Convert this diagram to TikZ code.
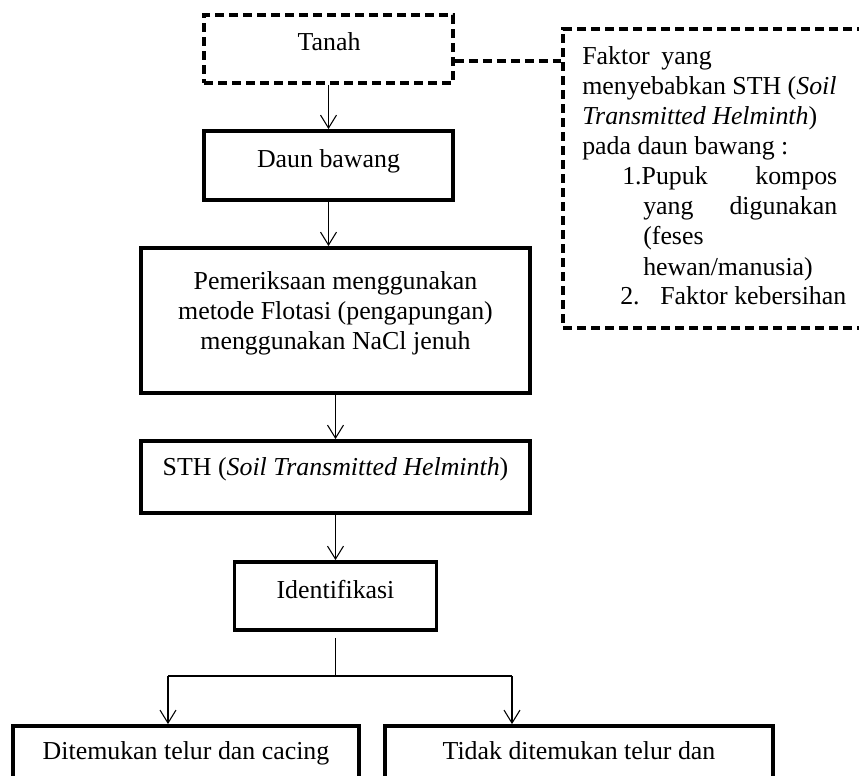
\documentclass[tikz,border=0pt]{standalone}
\usepackage{fontspec}
\setmainfont{Liberation Serif}
\usetikzlibrary{arrows.meta}
\begin{document}
\begin{tikzpicture}[x=0.75pt,y=-0.75pt,
  every node/.style={font=\fontsize{19.4pt}{22.5pt}\selectfont, inner sep=0pt},
  box/.style={draw, rectangle, line width=2.9pt, inner sep=0pt},
  dbox/.style={box, dash pattern=on 7pt off 3.5pt},
  txt/.style={anchor=base},
  ltxt/.style={anchor=base west},
  arr/.style={line width=0.8pt, -{Straight Barb[length=9.75pt,width=12pt,line width=0.8pt]}},
  thinline/.style={line width=0.8pt},
  dline/.style={line width=2.9pt, dash pattern=on 7pt off 3.5pt}]
\useasboundingbox (0,0) rectangle (859,775);
\fill[white] (0,0) rectangle (859,775);
\clip (0,0) rectangle (859,775);

% boxes
\node[dbox, minimum width=186.75pt, minimum height=51pt] (tanah) at (328.5,49) {};
\node[box, minimum width=186.75pt, minimum height=51.75pt] (daun) at (328.5,165.5) {};
\node[box, minimum width=291.75pt, minimum height=108.75pt] (periksa) at (335.5,320.5) {};
\node[box, minimum width=291.75pt, minimum height=54pt] (sth) at (335.5,477) {};
\node[box, minimum width=151.5pt, minimum height=51pt] (ident) at (335.5,596) {};
\node[box, minimum width=259.5pt, minimum height=52.5pt] (left) at (186,761) {};
\node[box, minimum width=291pt, minimum height=52.5pt] (right) at (579,761) {};
\node[dbox, minimum width=237.75pt, minimum height=224.25pt] (faktor) at (721.5,178.5) {};

% box texts
\node[txt] (tanahT) at (329,50) {Tanah};
\node[txt] (daunT) at (328.5,167) {Daun bawang};
\node[txt] (p1) at (335.5,289) {Pemeriksaan menggunakan};
\node[txt] (p2) at (335.5,319) {metode Flotasi (pengapungan)};
\node[txt] (p3) at (335.5,349) {menggunakan NaCl jenuh};
\node[txt] (sthT) at (335.5,475) {STH (\textit{Soil Transmitted Helminth})};
\node[txt] (identT) at (335.5,598) {Identifikasi};
\node[txt] (leftT) at (186,759) {Ditemukan telur dan cacing};
\node[txt] (rightT) at (579,759) {Tidak ditemukan telur dan};

% faktor texts
\node[ltxt] (f1) at (582,64) {Faktor\hspace{0.45em}yang};
\node[ltxt] (f2) at (582,94) {menyebabkan STH (\textit{Soil}};
\node[ltxt] (f3) at (582,124) {\textit{Transmitted Helminth})};
\node[ltxt] (f4) at (582,154) {pada daun bawang :};
\node[ltxt] (f5) at (622,184) {\makebox[161.25pt][l]{1.Pupuk\hfill kompos}};
\node[ltxt] (f6) at (643,214) {\makebox[145.5pt][l]{yang\hfill digunakan}};
\node[ltxt] (f7) at (643,244) {(feses};
\node[ltxt] (f8) at (643,275) {hewan/manusia)};
\node[ltxt] (f9a) at (620,304) {2.};
\node[ltxt] (f9b) at (660,304) {Faktor kebersihan};

% connectors
\draw[arr] (tanah.south) -- (daun.north);
\draw[arr] (daun.south) -- (daun.south |- periksa.north);
\draw[arr] (periksa.south) -- (sth.north);
\draw[arr] (sth.south) -- (ident.north);

\coordinate (j) at (335.5,676);
\coordinate (bl) at (168,676);
\coordinate (br) at (512,676);
\coordinate (is) at ([yshift=-4.5pt]ident.south);
\draw[thinline] (is) -- (is |- j);
\draw[thinline] (bl) -- (br);
\draw[arr] (bl) -- (bl |- left.north);
\draw[arr] (br) -- (br |- right.north);

\coordinate (c1) at ([yshift=-9pt]tanah.east);
\draw[dline] (c1) -- (c1 -| faktor.west);
\end{tikzpicture}
\end{document}
